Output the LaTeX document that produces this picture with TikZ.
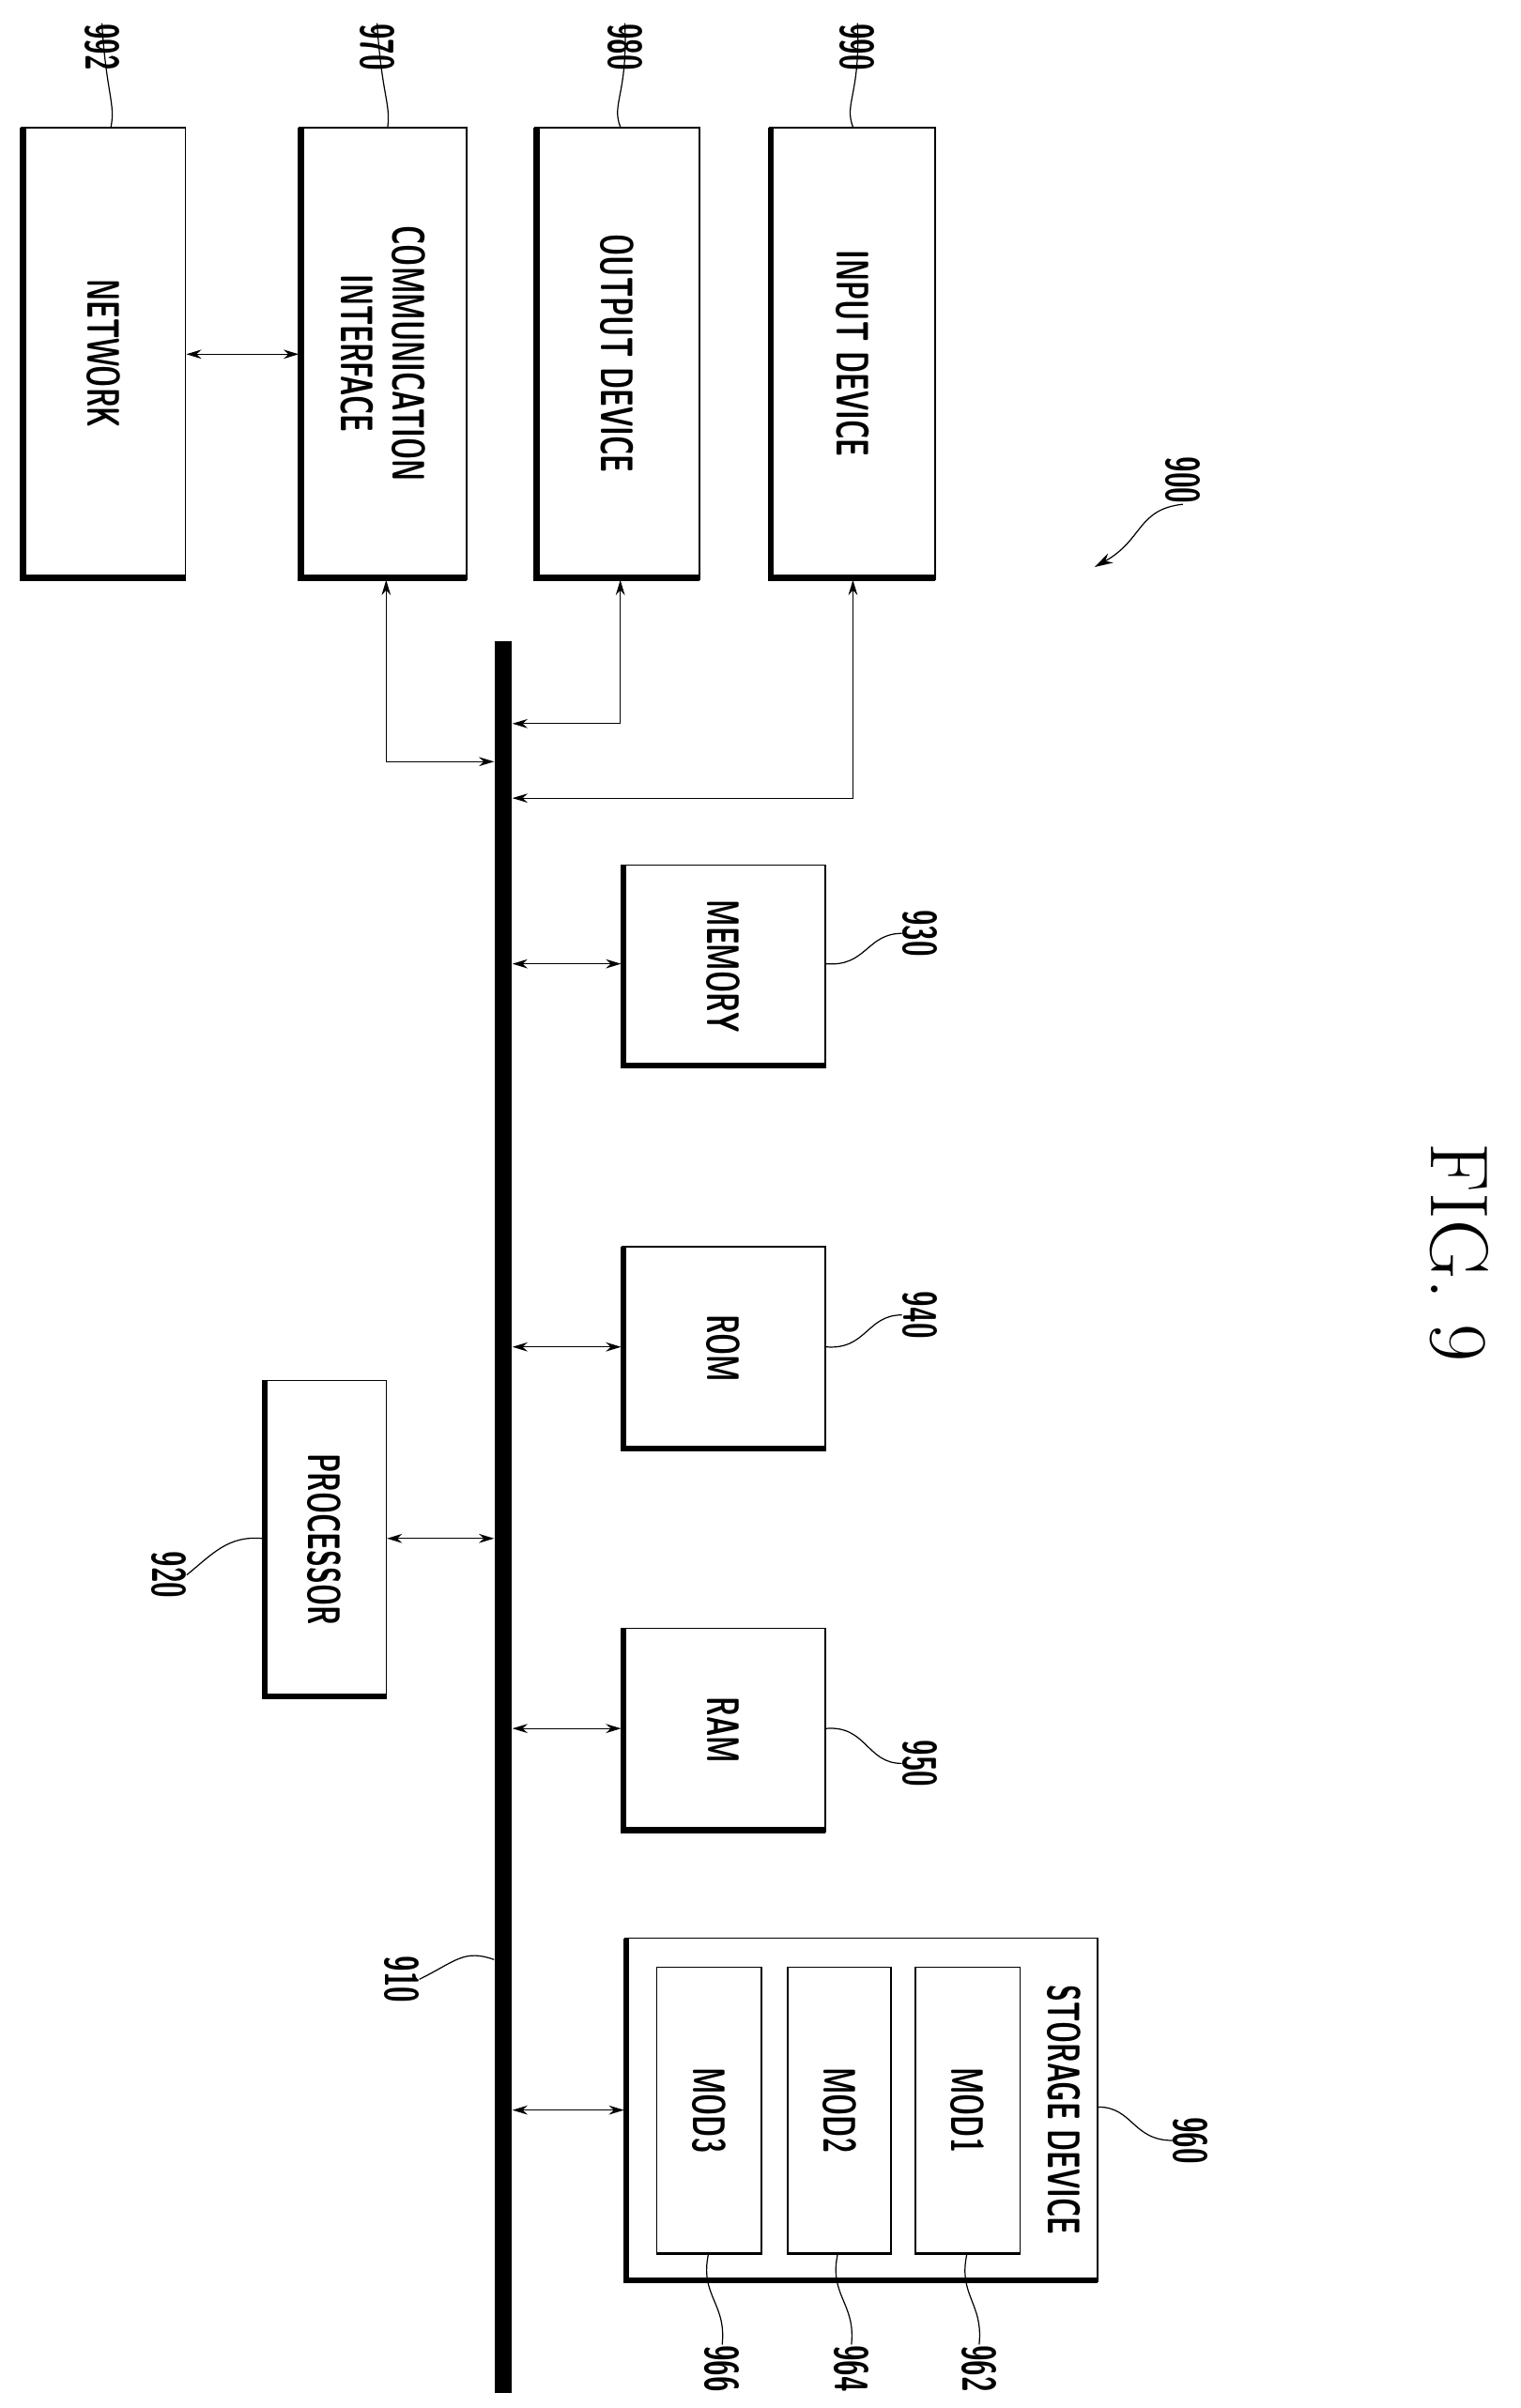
\documentclass[tikz,border=0pt]{standalone}
\usetikzlibrary{arrows.meta}
\tikzset{every picture/.style={line width=0.75pt}}
\tikzset{
  blk/.style={draw,line width=1pt,inner sep=0pt},
  txt/.style={rotate=-90,font=\sffamily\bfseries\fontsize{30}{30}\selectfont,align=center,inner sep=0pt},
  lbl/.style={rotate=-90,font=\sffamily\bfseries\fontsize{31}{31}\selectfont,inner sep=0pt},
  link/.style={{Stealth[length=10pt,width=6pt]}-{Stealth[length=10pt,width=6pt]}}
}
\newcommand{\nar}[1]{\scalebox{0.6}[1]{#1}}
% name, x1, y1, x2, y2
\newcommand{\blkbox}[5]{%
\node[blk,minimum width=#4-#2,minimum height=#5-#3] (#1) at ({(#2+#4)/2},{(#3+#5)/2}) {};
\draw [line width=4pt] (#2+1,#3) -- (#2+1,#5-1) -- (#4,#5-1);}

\begin{document}
\begin{tikzpicture}[x=1pt,y=1pt,yscale=-1,xscale=1]
\useasboundingbox (0,0) rectangle (1000,1584);

%bus
\draw [line width=11pt] (331,422) -- (331,1574);
\coordinate (bcomm) at (325,501);
\coordinate (bout) at (337,476);
\coordinate (bin) at (337,525);

%top row
\blkbox{net}{14}{84}{122}{381}
\blkbox{comm}{197}{84}{307}{381}
\blkbox{outd}{352}{84}{460}{381}
\blkbox{ind}{506}{84}{615}{381}
\node[txt] at (net) {\nar{NETWORK}};
\node[txt] at (comm) {\nar{COMMUNICATION}\\[4pt]\nar{INTERFACE}};
\node[txt] at (outd) {\nar{OUTPUT DEVICE}};
\node[txt] at (ind) {\nar{INPUT DEVICE}};

%middle
\blkbox{mem}{409}{569}{543}{702}
\blkbox{rom}{409}{820}{543}{954}
\blkbox{ram}{409}{1071}{543}{1205}
\blkbox{proc}{173}{908}{254}{1117}
\node[txt] at (mem) {\nar{MEMORY}};
\node[txt] at (rom) {\nar{ROM}};
\node[txt] at (ram) {\nar{RAM}};
\node[txt] at (proc) {\nar{PROCESSOR}};

%storage
\blkbox{stor}{411}{1275}{722}{1501}
\node[blk,minimum width=69,minimum height=188] (m3) at (466.5,1388) {};
\node[blk,minimum width=68,minimum height=188] (m2) at (552,1388) {};
\node[blk,minimum width=69,minimum height=188] (m1) at (636.5,1388) {};
\draw [line width=2pt] (m3.south west) -- (m3.south east);
\draw [line width=2pt] (m2.south west) -- (m2.south east);
\draw [line width=2pt] (m1.south west) -- (m1.south east);
\node[txt] at (m3) {\nar{MOD3}};
\node[txt] at (m2) {\nar{MOD2}};
\node[txt] at (m1) {\nar{MOD1}};
\node[txt] at (700,1388) {\nar{STORAGE DEVICE}};

%connectors
\draw [link] (net.east |- 0,233) -- (comm.west |- 0,233);
\draw [link] (comm.south -| 254,0) -- (254,501) -- (bcomm);
\draw [link] (outd.south -| 408,0) -- (408,476) -- (bout);
\draw [link] (ind.south -| 561,0) -- (561,525) -- (bin);
\draw [link] (337,634) -- (mem.west |- 0,634);
\draw [link] (337,886) -- (rom.west |- 0,886);
\draw [link] (337,1137) -- (ram.west |- 0,1137);
\draw [link] (proc.east |- 0,1012) -- (325,1012);
\draw [link] (337,1388) -- (stor.west |- 0,1388);

%reference labels
\node[lbl] (l992) at (67,31) {\nar{992}};
\draw (l992.west) .. controls (70,62) and (76,68) .. (net.north -| 73,0);
\node[lbl] (l970) at (248,31) {\nar{970}};
\draw (l970.west) .. controls (251,62) and (257,68) .. (comm.north -| 255,0);
\node[lbl] (l980) at (411,31) {\nar{980}};
\draw (l980.west) .. controls (413,62) and (402,68) .. (outd.north -| 408,0);
\node[lbl] (l990) at (564,31) {\nar{990}};
\draw (l990.west) .. controls (566,62) and (555,68) .. (ind.north -| 561,0);
\node[lbl] (l900) at (778,316) {\nar{900}};
\draw [-{Stealth[length=12pt,width=7pt]}] (l900.east) .. controls (748,335) and (752,355) .. (720,373);
\node[lbl] (l930) at (605,614) {\nar{930}};
\draw (mem.east |- 0,634) .. controls (570,636) and (570,614) .. (l930.south);
\node[lbl] (l940) at (605,865) {\nar{940}};
\draw (rom.east |- 0,886) .. controls (570,888) and (570,865) .. (l940.south);
\node[lbl] (l950) at (605,1160) {\nar{950}};
\draw (ram.east |- 0,1137) .. controls (570,1135) and (570,1160) .. (l950.south);
\node[lbl] (l920) at (111,1036) {\nar{920}};
\draw (proc.west |- 0,1012) .. controls (150,1010) and (140,1022) .. (l920.north);
\node[lbl] (l910) at (264,1302) {\nar{910}};
\draw (l910.north) .. controls (300,1290) and (305,1282) .. (325,1289);
\node[lbl] (l960) at (783,1408) {\nar{960}};
\draw (stor.east |- 0,1386) .. controls (745,1386) and (745,1408) .. (l960.south);
\node[lbl] (l966) at (475,1558) {\nar{966}};
\draw (m3.south -| 466,0) .. controls (460,1510) and (478,1515) .. (l966.west);
\node[lbl] (l964) at (560,1558) {\nar{964}};
\draw (m2.south -| 551,0) .. controls (545,1510) and (563,1515) .. (l964.west);
\node[lbl] (l962) at (644,1558) {\nar{962}};
\draw (m1.south -| 636,0) .. controls (630,1510) and (647,1515) .. (l962.west);

\node[rotate=-90,font=\fontsize{54}{54}\selectfont] (fig) at (960,824) {FIG. 9};
\end{tikzpicture}
\end{document}
